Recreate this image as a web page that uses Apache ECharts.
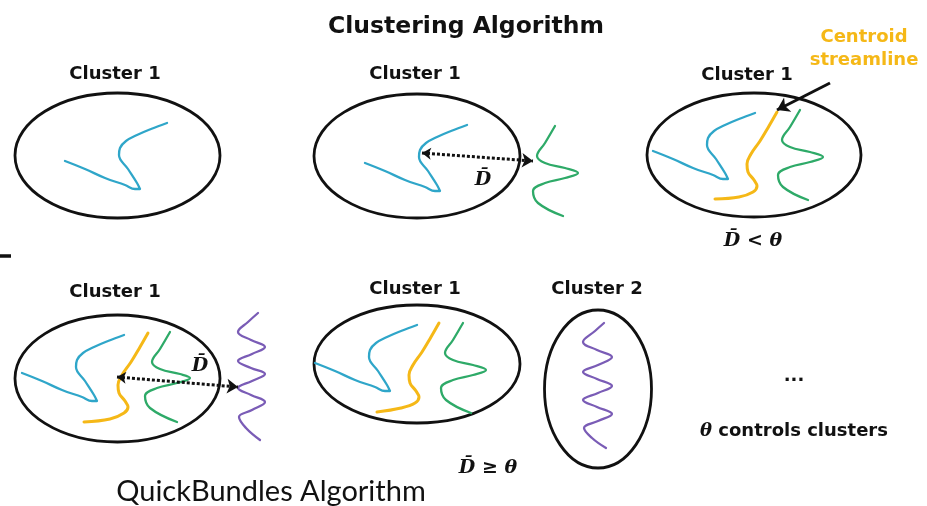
<!DOCTYPE html>
<html><head><meta charset="utf-8">
<script src="https://cdn.jsdelivr.net/npm/echarts@6/dist/echarts.min.js"></script>
<style>html,body{margin:0;padding:0;background:#fff}#c{width:927px;height:506px}</style>
</head><body><div id="c"></div>
<script>
// ---- data (diagram coordinates, y grows downward) ----
const clusterEllipses = [
  [117.5, 155.5, 102.5, 62.5],
  [417, 156, 103, 62],
  [754, 155, 107, 62],
  [117.5, 378.5, 102.5, 63.5],
  [417, 364, 103, 59],
  [598, 389, 53.5, 79]
];
const blueStreamlines = [
  [[65,161],[85,169],[105,178],[125,185],[135,189],[140,189],[137,183],[128,169],[119,155],[120,148],[126,141],[137,135],[151,129],[167,123]],
  [[365,163],[385,171],[405,180],[425,187],[435,191],[440,191],[437,185],[428,171],[419,157],[420,150],[426,143],[437,137],[451,131],[467,125]],
  [[653,151],[673,159],[693,168],[713,175],[723,179],[728,179],[725,173],[716,159],[707,145],[708,138],[714,131],[725,125],[739,119],[755,113]],
  [[22,373],[42,381],[62,390],[82,397],[92,401],[97,401],[94,395],[85,381],[76,367],[77,360],[83,353],[94,347],[108,341],[124,335]],
  [[315,363],[335,371],[355,380],[375,387],[385,391],[390,391],[387,385],[378,371],[369,357],[370,350],[376,343],[387,337],[401,331],[417,325]]
];
const greenStreamlines = [
  [[555,126],[545,143],[537,156],[545,163],[565,168],[578,173],[565,178],[545,183],[533,191],[538,203],[563,216]],
  [[800,110],[790,127],[782,140],[790,147],[810,152],[823,157],[810,162],[790,167],[778,175],[783,187],[808,200]],
  [[170,332],[160,349],[152,362],[160,369],[180,374],[190,378],[177,383],[157,388],[145,396],[150,408],[177,422]],
  [[463,323],[453,340],[445,353],[453,360],[473,365],[486,370],[473,375],[453,380],[441,388],[446,400],[471,413]]
];
const centroidStreamlines = [
  [[777,112],[769,126],[760,141],[751,154],[747,164],[748,172],[754,180],[757,186],[753,192],[739,197],[715,199]],
  [[148,333],[140,347],[131,362],[122,375],[118,385],[119,393],[125,401],[128,407],[124,413],[110,419],[84,422]],
  [[439,323],[431,337],[422,352],[413,365],[409,375],[410,383],[416,391],[419,397],[415,403],[401,408],[377,412]]
];
const purpleStreamlines = [
  [[258,313],[248,322],[238,332],[251,340],[265,347],[252,354],[238,361],[251,368],[265,374],[252,381],[238,388],[251,395],[265,402],[252,410],[239,417],[246,428],[260,440]],
  [[604,323],[595,331],[583,342],[597,350],[612,357],[598,365],[583,372],[597,379],[612,386],[598,393],[583,400],[597,407],[612,414],[598,421],[584,428],[592,438],[606,448]]
];
const distanceArrows = [
  [[422,153],[533,161]],
  [[117,377],[238,387]]
];
const pointerArrows = [
  [[830,83],[777,110]]
];
const edgeMarks = [
  [[0,255.5],[11,255.5]]
];
const labelTexts = ['Clustering Algorithm','Cluster 1','Cluster 1','Cluster 1','Cluster 1','Cluster 1','Cluster 2',
  'Centroid','streamline','D\u0304','D\u0304','D\u0304 < \u03b8','D\u0304 \u2265 \u03b8','...','{t|\u03b8}{c| controls clusters}','QuickBundles Algorithm'];
const labelAnchors = [[466,27],[115,74],[415,74],[747,75],[115,292],[415,289],[597,289],
  [864,37],[864,60],[483,180],[200,366],[753,241],[488,468],[794,376],[794,431],[271,492]];
const labelKinds = ['title','cluster','cluster','cluster','cluster','cluster','cluster',
  'centroid','centroid','math','math','math','math','dots','theta','caption'];

// ---- styles ----
const COLORS = {blue:'#2fa6c9', green:'#2eaa68', orange:'#f5b817', purple:'#7a5cb6'};
const FONTS = {
  title: {font:'bold 23.5px "DejaVu Sans"', fill:'#111'},
  cluster: {font:'bold 18px "DejaVu Sans"', fill:'#111'},
  centroid: {font:'bold 18px "DejaVu Sans"', fill:'#f5b817'},
  math: {font:'italic bold 19px "DejaVu Serif"', fill:'#111'},
  dots: {font:'bold 18px "DejaVu Sans"', fill:'#111'},
  theta: {font:'bold 18px "DejaVu Sans"', fill:'#111'},
  caption: {font:'29px Lato', fill:'#111'}
};

const series = [];
series.push({
  type:'custom', data: clusterEllipses, z:2, silent:true,
  renderItem:(params, api)=>{
    const c = api.coord([api.value(0), api.value(1)]);
    const s = api.size([api.value(2), api.value(3)]);
    return {type:'ellipse', shape:{cx:c[0], cy:c[1], rx:Math.abs(s[0]), ry:Math.abs(s[1])},
      style:{fill:'none', stroke:'#111', lineWidth:2.8}};
  }
});
function addCurves(list, color, width){
  list.forEach(pts=>series.push({type:'line', data:pts, smooth:0.4, symbol:'none', silent:true, z:3,
    lineStyle:{color:color, width:width, cap:'round', join:'round'}}));
}
addCurves(blueStreamlines, COLORS.blue, 2.3);
addCurves(greenStreamlines, COLORS.green, 2.3);
addCurves(centroidStreamlines, COLORS.orange, 3);
addCurves(purpleStreamlines, COLORS.purple, 2.3);

series.push({type:'lines', coordinateSystem:'cartesian2d', z:4, silent:true,
  data: distanceArrows.map(c=>({coords:c})),
  symbol:['arrow','arrow'], symbolSize:[9,11],
  lineStyle:{color:'#111', width:3, type:[3,2], opacity:1}});
series.push({type:'lines', coordinateSystem:'cartesian2d', z:4, silent:true,
  data: pointerArrows.map(c=>({coords:c})),
  symbol:['none','arrow'], symbolSize:12,
  lineStyle:{color:'#111', width:3, opacity:1}});
series.push({type:'lines', coordinateSystem:'cartesian2d', z:4, silent:true,
  data: edgeMarks.map(c=>({coords:c})), symbol:'none',
  lineStyle:{color:'#111', width:3.5, opacity:1}});

series.push({type:'custom', z:5, silent:true, data: labelAnchors,
  renderItem:(params, api)=>{
    const i = params.dataIndex;
    const p = api.coord([api.value(0), api.value(1)]);
    const f = FONTS[labelKinds[i]];
    const style = {text:labelTexts[i], font:f.font, fill:f.fill, align:'center', verticalAlign:'middle'};
    if (labelKinds[i]==='theta') {
      style.rich = {t:{font:'italic bold 18px "DejaVu Serif"', fill:'#111'}, c:{font:'bold 18px "DejaVu Sans"', fill:'#111'}};
    }
    return {type:'text', x:p[0], y:p[1], style:style};
  }
});

const chart = echarts.init(document.getElementById('c'), null, {renderer:'canvas'});
chart.setOption({
  backgroundColor:'#ffffff',
  animation:false,
  grid:{left:0, right:0, top:0, bottom:0},
  xAxis:{type:'value', min:0, max:927, show:false},
  yAxis:{type:'value', min:0, max:506, inverse:true, show:false},
  series: series
});
</script></body></html>
